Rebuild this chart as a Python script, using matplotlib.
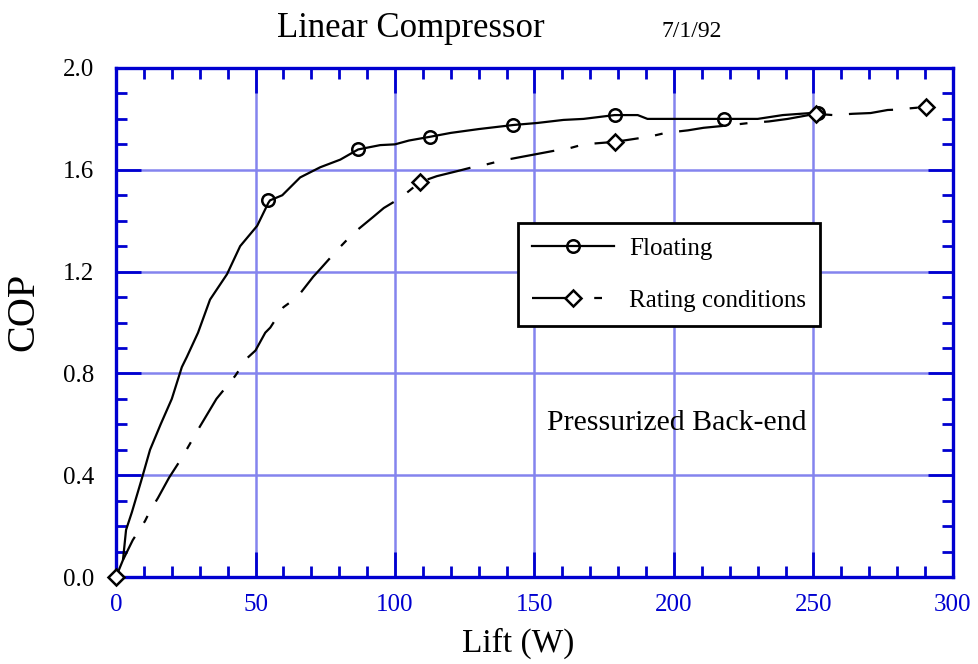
import matplotlib
matplotlib.use("Agg")
import matplotlib.pyplot as plt
from matplotlib.lines import Line2D
from matplotlib.ticker import MultipleLocator

# Floating curve (solid line) and its circle markers
floating_x = [2.5, 3.6, 5.7, 9.0, 12.2, 16.0, 20.0, 23.6, 25.4, 29.4, 33.7, 39.8, 44.5,
              50.6, 54.6, 55.2, 59.6, 66.0, 73.2, 80.4, 86.8, 94.7, 100.0, 105.0, 112.7,
              120.0, 130.0, 142.4, 151.0, 160.4, 167.6, 178.7, 187.0, 190.5, 200.0,
              217.8, 230.0, 239.0, 251.5]
floating_y = [0.067, 0.185, 0.255, 0.377, 0.50, 0.60, 0.70, 0.825, 0.865, 0.96, 1.09, 1.19,
              1.30, 1.38, 1.47, 1.48, 1.50, 1.57, 1.61, 1.64, 1.68, 1.697, 1.70, 1.715,
              1.73, 1.745, 1.76, 1.776, 1.784, 1.796, 1.80, 1.815, 1.815, 1.80, 1.80,
              1.80, 1.80, 1.815, 1.825]
floating_mark_x = [54.5, 86.6, 112.7, 142.4, 178.7, 217.8, 251.5]
floating_mark_y = [1.48, 1.68, 1.73, 1.776, 1.815, 1.80, 1.825]

# Rating conditions curve (dashed line) and its diamond markers
rating_x = [0.0, 2.5, 6.0, 10.4, 12.2, 15.0, 19.0, 23.7, 30.0, 36.0, 42.7, 47.0, 50.0,
            53.5, 55.3, 60.0, 65.0, 70.7, 73.2, 79.3, 85.0, 92.2, 96.0, 101.9, 109.0,
            115.0, 122.4, 129.5, 132.4, 137.8, 145.0, 152.8, 158.6, 161.0, 167.6, 179.0,
            188.0, 190.0, 197.0, 205.0, 210.6, 220.0, 227.0, 234.0, 240.8, 250.8, 257.0,
            264.0, 270.5, 276.6, 278.8, 290.3]
rating_y = [0.0, 0.067, 0.145, 0.22, 0.26, 0.31, 0.39, 0.47, 0.59, 0.70, 0.79, 0.86, 0.89,
            0.96, 0.98, 1.06, 1.10, 1.18, 1.21, 1.285, 1.35, 1.415, 1.45, 1.489, 1.552,
            1.575, 1.595, 1.615, 1.62, 1.635, 1.65, 1.666, 1.678, 1.68, 1.70, 1.71,
            1.725, 1.727, 1.745, 1.755, 1.765, 1.775, 1.784, 1.79, 1.80, 1.82, 1.815,
            1.82, 1.823, 1.835, 1.836, 1.847]
rating_mark_x = [0.0, 109.0, 178.7, 250.8, 290.3]
rating_mark_y = [0.0, 1.552, 1.71, 1.82, 1.847]

x_ticks = [0, 50, 100, 150, 200, 250, 300]
y_ticks = [0.0, 0.4, 0.8, 1.2, 1.6, 2.0]

AXIS_BLUE = "#0000d0"
GRID_BLUE = "#8484ee"

plt.rcParams["font.family"] = ["Liberation Serif", "DejaVu Serif"]

fig = plt.figure(figsize=(9.79, 6.64), dpi=100)
ax = fig.add_axes([0.1185, 0.131, 0.8549, 0.7666])

ax.plot(floating_x, floating_y, color="black", lw=1.6, solid_capstyle="butt")
ax.plot(floating_mark_x, floating_mark_y, ls="none", marker="o", ms=9, mfc="none",
        mec="black", mew=1.8, zorder=4)

rating_line, = ax.plot(rating_x, rating_y, color="black", lw=1.6)
rating_line.set_dashes([20, 7.5, 3.5, 7.5])
ax.plot(rating_mark_x, rating_mark_y, ls="none", marker="D", ms=8.5, mfc="white",
        mec="black", mew=1.8, zorder=4, clip_on=False)

ax.set_xlim(0, 300)
ax.set_ylim(0, 2.0)
ax.set_xticks(x_ticks)
ax.set_yticks(y_ticks)
ax.set_xticklabels([str(v) for v in x_ticks])
ax.set_yticklabels([f"{v:.1f}" for v in y_ticks])
ax.xaxis.set_minor_locator(MultipleLocator(10))
ax.yaxis.set_minor_locator(MultipleLocator(0.1))

ax.grid(True, which="major", color=GRID_BLUE, lw=1.8)
ax.set_axisbelow(True)
for s in ax.spines.values():
    s.set_color(AXIS_BLUE)
    s.set_linewidth(2.4)

ax.tick_params(which="both", direction="in", top=True, right=True, color=AXIS_BLUE, width=2)
ax.tick_params(which="major", length=18)
ax.tick_params(which="minor", length=8)
ax.tick_params(axis="x", which="major", labelsize=18, labelcolor=AXIS_BLUE, pad=12)
ax.tick_params(axis="y", which="major", labelsize=18, labelcolor="black", pad=16)

ax.set_xlabel("Lift (W)", fontsize=24, va="center")
ax.xaxis.set_label_coords(0.481, -0.13)
ax.set_ylabel("COP", fontsize=29, va="center", ha="center")
ax.yaxis.set_label_coords(-0.11, 0.52)

fig.text(0.42, 0.945, "Linear Compressor", fontsize=25, ha="center", va="baseline")
fig.text(0.707, 0.945, "7/1/92", fontsize=17, ha="center", va="baseline")

ax.text(201, 0.605, "Pressurized Back-end", fontsize=21.5, ha="center", va="center")

handles = [
    Line2D([], [], color="black", lw=1.6, marker="o", ms=9, mfc="none", mew=1.8),
    Line2D([], [], color="black", lw=1.6, dashes=[22, 6, 3.5, 6], marker="D", ms=8.5,
           mfc="white", mew=1.8),
]
leg = ax.legend(handles, ["Floating", "Rating conditions"], loc="upper left",
                bbox_to_anchor=(0.48, 0.695), fontsize=18, frameon=True, fancybox=False,
                edgecolor="black", framealpha=1, handlelength=3.3, handletextpad=0.6,
                labelspacing=1.18, borderpad=0.56, borderaxespad=0, numpoints=1)
leg.get_frame().set_linewidth(2)

fig.savefig("out.png", dpi=100)
